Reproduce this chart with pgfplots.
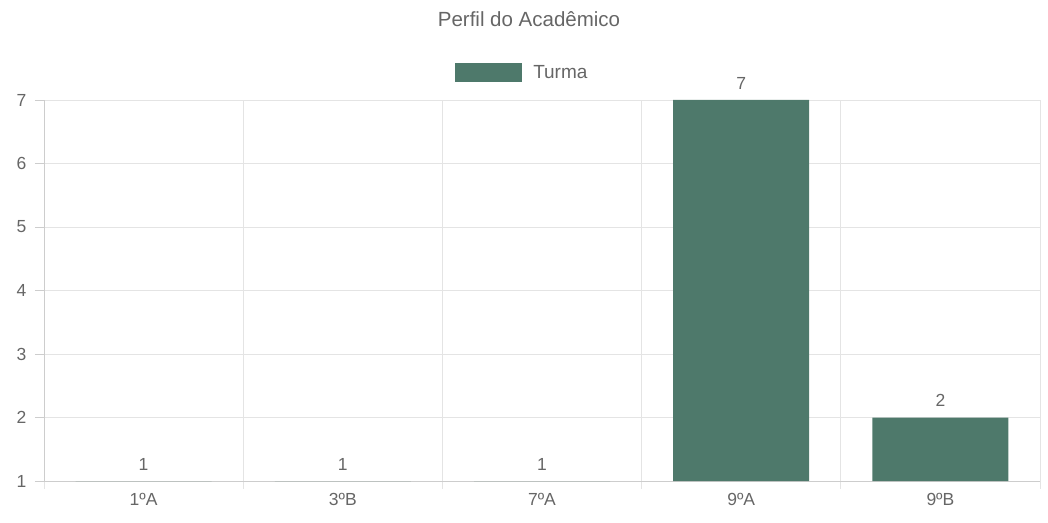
\documentclass[border=0pt]{standalone}
\usepackage{pgfplots}
\pgfplotsset{compat=1.18}
\usepackage{fontspec}
\setmainfont{Liberation Sans}
\definecolor{barc}{RGB}{78,121,107}
\definecolor{txt}{RGB}{102,102,102}
\definecolor{gridc}{RGB}{228,228,228}
\definecolor{axc}{RGB}{205,205,205}
\begin{document}
\begin{tikzpicture}[x=1pt,y=1pt]
\useasboundingbox (0,0) rectangle (1048,522);
\node[text=txt, font=\fontsize{20.5}{24}\selectfont] at (529,503) {Perfil do Acadêmico};
\begin{axis}[
  at={(44pt,41pt)}, anchor=south west,
  scale only axis, width=996pt, height=381pt,
  /pgf/number format/assume math mode=true,
  ymin=1, ymax=7, ytick={1,...,7},
  xmin=-0.5, xmax=4.5, xtick={0,...,4},
  xticklabels={1ºA,3ºB,7ºA,9ºA,9ºB},
  minor xtick={-0.5,0.5,1.5,2.5,3.5,4.5},
  xminorgrids, ymajorgrids,
  grid style={draw=gridc, line width=0.8pt},
  minor grid style={draw=gridc, line width=0.8pt},
  axis x line*=bottom, axis y line*=left,
  axis line style={draw=axc, line width=0.9pt, -},
  tick align=outside,
  major tick length=9pt, minor tick length=8pt,
  xtick style={draw=none},
  minor x tick style={draw=gridc, line width=0.8pt},
  ytick style={draw=axc, line width=0.8pt},
  ticklabel style={text=txt, font=\fontsize{17.5}{20}\selectfont},
  yticklabel style={anchor=east, xshift=-5pt},
  xticklabel style={anchor=north},
  nodes near coords,
  nodes near coords style={text=txt, font=\fontsize{17.5}{20}\selectfont, anchor=south, yshift=7pt},
  legend image code/.code={\fill[barc] (0pt,-9.5pt) rectangle (67pt,9.5pt);},
  legend style={draw=none, fill=none, at={(0.4127,1.0722)}, anchor=west, inner sep=0pt,
    font=\fontsize{19}{22}\selectfont, text=txt,
    /tikz/every odd column/.append style={column sep=9pt}},
  clip=true,
]
\addplot[ybar, bar width=136pt, fill=barc, draw=none] coordinates {(0,1) (1,1) (2,1) (3,7) (4,2)};
\addlegendentry{Turma}
\end{axis}
\end{tikzpicture}
\end{document}
